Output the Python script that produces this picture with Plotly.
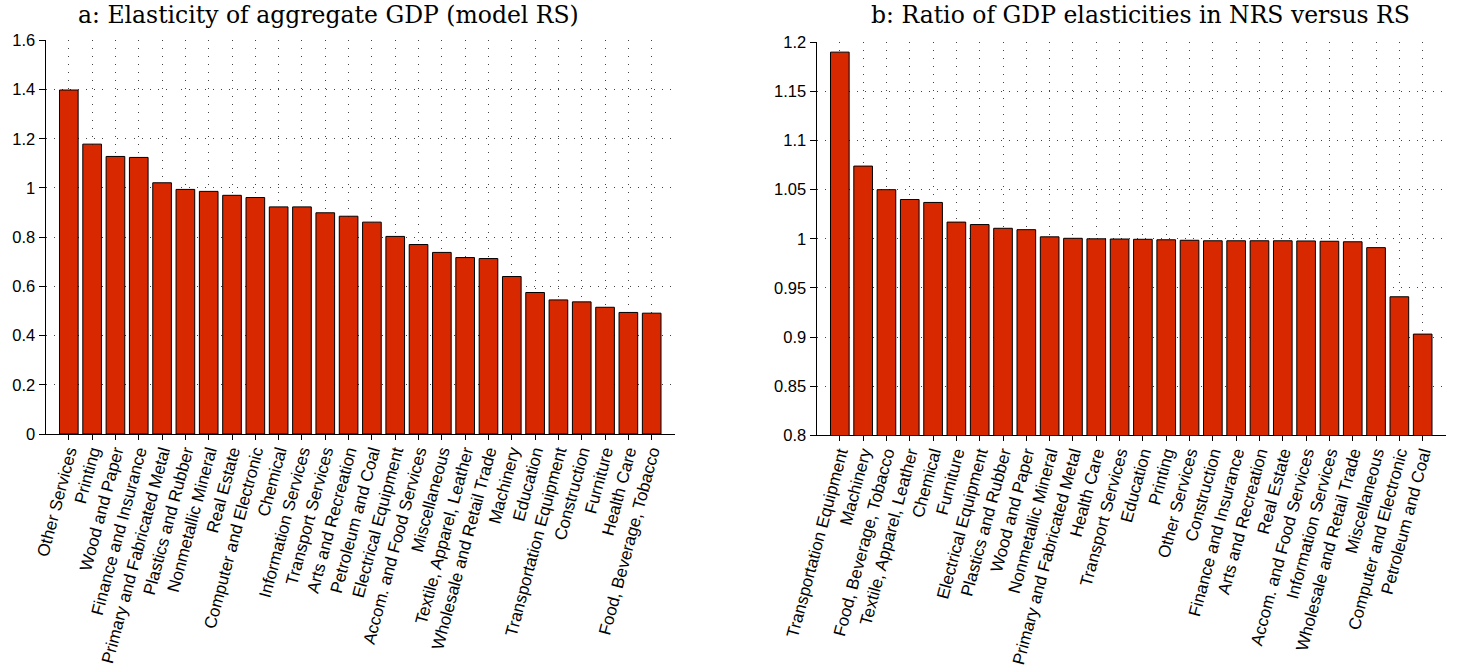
import plotly.graph_objects as go

# Panel a data
cats_a = ["Other Services", "Printing", "Wood and Paper", "Finance and Insurance",
          "Primary and Fabricated Metal", "Plastics and Rubber", "Nonmetallic Mineral",
          "Real Estate", "Computer and Electronic", "Chemical", "Information Services",
          "Transport Services", "Arts and Recreation", "Petroleum and Coal",
          "Electrical Equipment", "Accom. and Food Services", "Miscellaneous",
          "Textile, Apparel, Leather", "Wholesale and Retail Trade", "Machinery",
          "Education", "Transportation Equipment", "Construction", "Furniture",
          "Health Care", "Food, Beverage, Tobacco"]
vals_a = [1.398, 1.178, 1.128, 1.124, 1.021, 0.994, 0.986, 0.970, 0.961, 0.923,
          0.923, 0.899, 0.885, 0.861, 0.803, 0.770, 0.738, 0.717, 0.713, 0.640,
          0.575, 0.545, 0.537, 0.515, 0.494, 0.491]

# Panel b data
cats_b = ["Transportation Equipment", "Machinery", "Food, Beverage, Tobacco",
          "Textile, Apparel, Leather", "Chemical", "Furniture", "Electrical Equipment",
          "Plastics and Rubber", "Wood and Paper", "Nonmetallic Mineral",
          "Primary and Fabricated Metal", "Health Care", "Transport Services",
          "Education", "Printing", "Other Services", "Construction",
          "Finance and Insurance", "Arts and Recreation", "Real Estate",
          "Accom. and Food Services", "Information Services",
          "Wholesale and Retail Trade", "Miscellaneous", "Computer and Electronic",
          "Petroleum and Coal"]
vals_b = [1.190, 1.074, 1.050, 1.040, 1.037, 1.017, 1.0145, 1.0107, 1.0093, 1.002,
          1.0005, 1.000, 0.9998, 0.9995, 0.999, 0.9985, 0.998, 0.998, 0.998, 0.998,
          0.9978, 0.9975, 0.997, 0.991, 0.941, 0.903]

title_a = "a: Elasticity of aggregate GDP (model RS)"
title_b = "b: Ratio of GDP elasticities in NRS versus RS"

yticks_a = [0, 0.2, 0.4, 0.6, 0.8, 1.0, 1.2, 1.4, 1.6]
yticklabels_a = ["0", "0.2", "0.4", "0.6", "0.8", "1", "1.2", "1.4", "1.6"]
yticks_b = [0.8, 0.85, 0.9, 0.95, 1.0, 1.05, 1.1, 1.15, 1.2]
yticklabels_b = ["0.8", "0.85", "0.9", "0.95", "1", "1.05", "1.1", "1.15", "1.2"]

BAR = "#D82800"
W, H = 1458, 667
font_x = dict(family="Liberation Sans, Arial, sans-serif", size=17, color="#000")
font_y = dict(family="Liberation Sans, Arial, sans-serif", size=16.5, color="#000")

fig = go.Figure()
fig.add_trace(go.Bar(x=list(range(len(cats_a))), y=vals_a, width=0.8,
                     marker=dict(color=BAR, line=dict(color="#000", width=1)),
                     xaxis="x", yaxis="y", showlegend=False))
fig.add_trace(go.Bar(x=list(range(len(cats_b))), y=vals_b, width=0.8,
                     marker=dict(color=BAR, line=dict(color="#000", width=1)),
                     xaxis="x2", yaxis="y2", showlegend=False))

def xax(domain, cats, anchor):
    return dict(domain=domain, anchor=anchor, range=[-1, 26], automargin=False,
                tickmode="array", tickvals=list(range(len(cats))), ticktext=cats,
                tickangle=-75, tickfont=font_x, ticks="outside", ticklen=5,
                ticklabelstandoff=-5,
                tickcolor="#000", showline=True, linecolor="#000", linewidth=1,
                showgrid=True, gridcolor="#444", griddash="1px,7px", gridwidth=1,
                zeroline=False, layer="below traces")

def yax(domain, rng, tv, tt, anchor):
    return dict(domain=domain, anchor=anchor, range=rng, tickmode="array",
                automargin=False,
                tickvals=tv, ticktext=tt, tickfont=font_y, ticks="outside",
                ticklen=6, tickcolor="#000", showline=True, linecolor="#000",
                linewidth=1, showgrid=True, gridcolor="#444", griddash="1px,7px",
                gridwidth=1, zeroline=False, layer="below traces")

fig.update_layout(
    width=W, height=H,
    margin=dict(l=0, r=0, t=0, b=0),
    paper_bgcolor="white", plot_bgcolor="white",
    bargap=0.2,
    xaxis=xax([45.5 / W, 675 / W], cats_a, "y"),
    yaxis=yax([1 - 434 / H, 1 - 40.3 / H], [0, 1.6], yticks_a, yticklabels_a, "x"),
    xaxis2=xax([816.5 / W, 1446 / W], cats_b, "y2"),
    yaxis2=yax([1 - 435.3 / H, 1 - 42.3 / H], [0.8, 1.2], yticks_b, yticklabels_b, "x2"),
    annotations=[
        dict(text=title_a, x=328 / W, y=1 - 15 / H, xref="paper", yref="paper",
             xanchor="center", yanchor="middle", showarrow=False,
             font=dict(family="DejaVu Serif, serif", size=23.5, color="#000")),
        dict(text=title_b, x=1140 / W, y=1 - 15 / H, xref="paper", yref="paper",
             xanchor="center", yanchor="middle", showarrow=False,
             font=dict(family="DejaVu Serif, serif", size=23.5, color="#000")),
    ],
)

fig.write_html("out.html", config={"displayModeBar": False},
               post_script="document.body.style.margin='0';document.body.style.overflow='hidden';")
